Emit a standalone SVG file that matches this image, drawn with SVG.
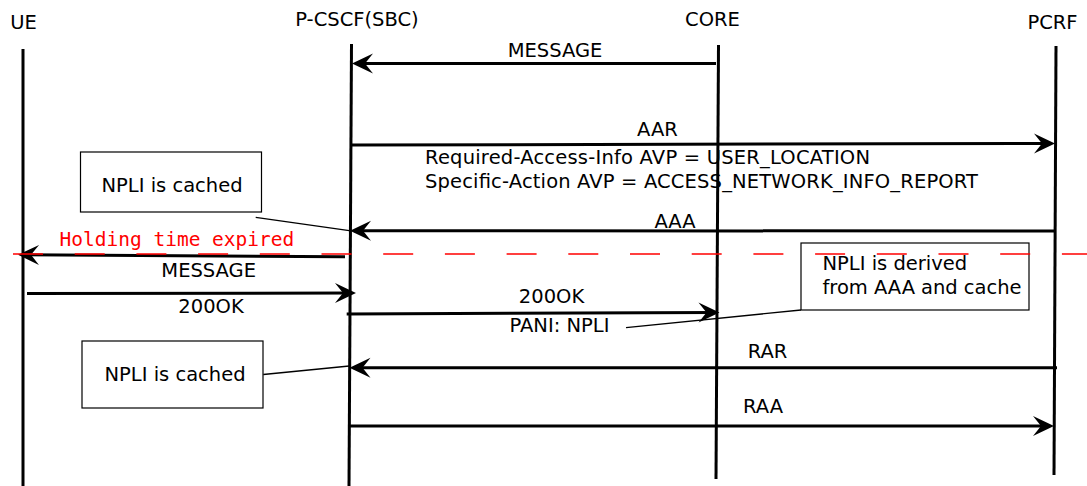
<svg xmlns="http://www.w3.org/2000/svg" width="1087" height="486" viewBox="0 0 1087 486">
<style>
text{font-family:"DejaVu Sans","Liberation Sans",sans-serif;font-size:19.5px;fill:#000}
.mid{text-anchor:middle}
.mono{font-family:"DejaVu Sans Mono","Liberation Mono",monospace;font-size:19.5px;fill:#ff0000}
.life{stroke:#000;stroke-width:3;fill:none}
.msg{stroke:#000;stroke-width:3;fill:none;marker-end:url(#ah)}
.note{fill:#fff;stroke:#000;stroke-width:1.2}
.lnk{stroke:#000;stroke-width:1.3;fill:none}
.dash{stroke:#ff0000;stroke-width:1.5;stroke-dasharray:30 31.7;fill:none}
</style>
<defs>
<marker id="ah" markerUnits="userSpaceOnUse" orient="auto" refX="0" refY="0" markerWidth="30" markerHeight="30" overflow="visible">
<path d="M4,0 L-17,-10 L-9,0 L-17,10 Z" fill="#000"/>
</marker>
</defs>
<g id="ue">
<text class="mid" x="23.5" y="29">UE</text>
<line class="life" x1="23" y1="49" x2="23" y2="486"/>
</g>
<g id="pcscf">
<text class="mid" x="357" y="26">P-CSCF(SBC)</text>
<line class="life" x1="351.5" y1="44" x2="349" y2="486"/>
</g>
<g id="core">
<text class="mid" x="712.5" y="25.5">CORE</text>
<line class="life" x1="718.5" y1="45" x2="716" y2="479"/>
</g>
<g id="pcrf">
<text class="mid" x="1052.5" y="29">PCRF</text>
<line class="life" x1="1056" y1="46" x2="1054" y2="475"/>
</g>
<g id="note-cached-1">
<rect class="note" x="80.5" y="152" width="181" height="60"/>
<text x="101.5" y="191.5">NPLI is cached</text>
</g>
<g id="note-derived">
<rect class="note" x="801" y="243" width="228" height="67"/>
<text x="822.5" y="269.5">NPLI is derived</text>
<text x="822.5" y="293.5" textLength="199" lengthAdjust="spacing">from AAA and cache</text>
</g>
<g id="note-cached-2">
<rect class="note" x="82" y="341" width="181" height="67"/>
<text x="104.5" y="380.5">NPLI is cached</text>
</g>
<g id="connectors">
<line class="msg" x1="716" y1="63.5" x2="356" y2="63.5"/>
<text class="mid" x="555" y="57">MESSAGE</text>
<line class="msg" x1="351" y1="145" x2="1051" y2="143.4"/>
<text class="mid" x="657.5" y="136">AAR</text>
<text x="425" y="164" textLength="445" lengthAdjust="spacing">Required-Access-Info AVP = USER_LOCATION</text>
<text x="425" y="187.5" textLength="553" lengthAdjust="spacing">Specific-Action AVP = ACCESS_NETWORK_INFO_REPORT</text>
<line class="msg" x1="1056" y1="231" x2="354" y2="230.7"/>
<text class="mid" x="675" y="227.5">AAA</text>
<line class="lnk" x1="255.7" y1="217.3" x2="349.3" y2="230.7"/>
<line class="msg" x1="345" y1="256.7" x2="22" y2="254.8"/>
<text class="mid" x="208.7" y="276.5">MESSAGE</text>
<line class="msg" x1="27" y1="293.5" x2="352" y2="293"/>
<text class="mid" x="211" y="312.5">200OK</text>
<line class="msg" x1="346.7" y1="314" x2="715.5" y2="312.5"/>
<text class="mid" x="551.5" y="302.5">200OK</text>
<text x="509.5" y="331.5">PANI: NPLI</text>
<line class="lnk" x1="626" y1="327.7" x2="801" y2="310"/>
<line class="msg" x1="1057" y1="367.7" x2="353.5" y2="367.7"/>
<text class="mid" x="767.5" y="358">RAR</text>
<line class="lnk" x1="263.3" y1="374.5" x2="349.3" y2="366"/>
<line class="msg" x1="349" y1="426" x2="1050" y2="426"/>
<text class="mid" x="763" y="413">RAA</text>
<line class="dash" x1="13" y1="254" x2="1087" y2="254"/>
<text class="mono" x="59.5" y="245.5">Holding time expired</text>
</g>
</svg>
